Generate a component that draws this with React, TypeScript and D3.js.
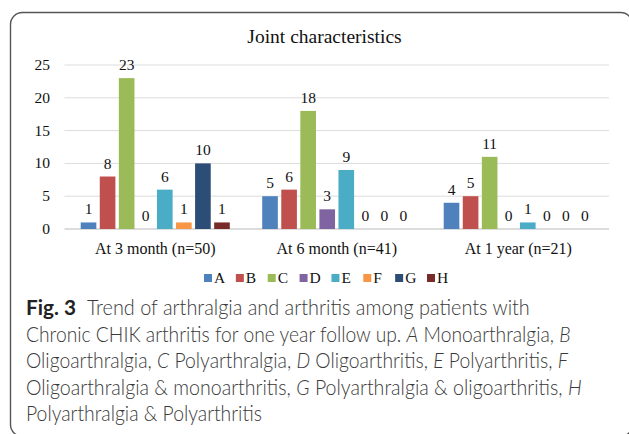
import React, { useLayoutEffect, useRef } from "react"
import * as d3 from "d3"

const categories = ["At 3 month (n=50)", "At 6 month (n=41)", "At 1 year (n=21)"]
const seriesKeys = ["A", "B", "C", "D", "E", "F", "G", "H"]
const seriesA = [1, 5, 4]
const seriesB = [8, 6, 5]
const seriesC = [23, 18, 11]
const seriesD = [0, 3, 0]
const seriesE = [6, 9, 1]
const seriesF = [1, 0, 0]
const seriesG = [10, 0, 0]
const seriesH = [1, 0, 0]
const yTicks = [0, 5, 10, 15, 20, 25]
const colors = ["#4F81BD", "#C0504D", "#9BBB59", "#8064A2", "#4BACC6", "#F79646", "#2C4D75", "#772C2A"]

const allSeries = [seriesA, seriesB, seriesC, seriesD, seriesE, seriesF, seriesG, seriesH]

// caption lines: [text, italic?] segments, start x, target width, baseline
const captionLines: { x: number; y: number; w: number; parts: [string, boolean][] }[] = [
	{ x: 87, y: 315, w: 443, parts: [["Trend of arthralgia and arthritis among patients with", false]] },
	{
		x: 26,
		y: 341.5,
		w: 545,
		parts: [
			["Chronic CHIK arthritis for one year follow up. ", false],
			["A", true],
			[" Monoarthralgia, ", false],
			["B", true],
		],
	},
	{
		x: 26,
		y: 368,
		w: 542,
		parts: [
			["Oligoarthralgia, ", false],
			["C", true],
			[" Polyarthralgia, ", false],
			["D", true],
			[" Oligoarthritis, ", false],
			["E", true],
			[" Polyarthritis, ", false],
			["F", true],
		],
	},
	{
		x: 26,
		y: 394.5,
		w: 556,
		parts: [
			["Oligoarthralgia & monoarthritis, ", false],
			["G", true],
			[" Polyarthralgia & oligoarthritis, ", false],
			["H", true],
		],
	},
	{ x: 26, y: 421, w: 236, parts: [["Polyarthralgia & Polyarthritis", false]] },
]

const serif = "'Liberation Serif', 'Times New Roman', serif"
const sans = "Lato, 'Open Sans', sans-serif"

const App: React.FC = () => {
	const width = 629
	const height = 434
	const plot = { left: 64.5, right: 609, top: 65, bottom: 229 }
	const captionRef = useRef<SVGGElement>(null)

	const x0 = d3.scaleBand().domain(categories).range([plot.left, plot.right])
	const x1 = d3
		.scaleBand()
		.domain(seriesKeys)
		.range([0, x0.bandwidth()])
		.paddingInner(0.18)
		.paddingOuter(0.85)
	const y = d3.scaleLinear().domain([0, 25]).range([plot.bottom, plot.top])

	const legendX = d3.scalePoint().domain(seriesKeys).range([204, 427])

	const bars = categories.flatMap((cat, ci) =>
		seriesKeys.map((key, si) => ({
			cat,
			key,
			value: allSeries[si][ci],
			color: colors[si],
		}))
	)

	// squeeze each caption line to the width it has in the figure
	useLayoutEffect(() => {
		if (!captionRef.current) return
		d3.select(captionRef.current)
			.selectAll<SVGTextElement, unknown>("text.cap")
			.each(function () {
				const el = this
				const tx = +(el.getAttribute("data-x") || 0)
				const ty = +(el.getAttribute("data-y") || 0)
				const tw = +(el.getAttribute("data-w") || 0)
				const w = el.getComputedTextLength()
				const sx = w > 0 ? tw / w : 1
				el.setAttribute("transform", `translate(${tx},${ty}) scale(${sx},1)`)
			})
	}, [])

	return (
		<svg
			width={width}
			height={height}
			style={{ position: "absolute", left: 0, top: 0, background: "#fff" }}>
			<rect
				x={10.5}
				y={12.5}
				width={622}
				height={424}
				rx={12}
				fill="none"
				stroke="#555"
				strokeWidth={1.4}
			/>
			<text
				x={324.5}
				y={43}
				textAnchor="middle"
				fontFamily={serif}
				fontSize={19.5}
				fill="#111">
				Joint characteristics
			</text>
			{/* gridlines + y labels */}
			{yTicks.map((t) => (
				<g key={t}>
					<line
						x1={plot.left}
						x2={plot.right}
						y1={y(t)}
						y2={y(t)}
						stroke={t === 0 ? "#d0d0d0" : "#dcdcdc"}
						strokeWidth={t === 0 ? 1.5 : 1}
					/>
					<text
						x={50}
						y={y(t) + 5}
						textAnchor="end"
						fontFamily={serif}
						fontSize={15.5}
						fill="#111">
						{t}
					</text>
				</g>
			))}
			{bars.map((b) => {
				const bx = (x0(b.cat) as number) + (x1(b.key) as number)
				const by = y(b.value)
				return (
					<g key={b.cat + b.key}>
						<rect
							x={bx}
							y={by}
							width={x1.bandwidth()}
							height={plot.bottom - by}
							fill={b.color}
						/>
						<text
							x={bx + x1.bandwidth() / 2}
							y={by - 8}
							textAnchor="middle"
							fontFamily={serif}
							fontSize={15.5}
							fill="#111">
							{b.value}
						</text>
					</g>
				)
			})}
			{categories.map((c) => (
				<text
					key={c}
					x={(x0(c) as number) + x0.bandwidth() / 2}
					y={253.5}
					textAnchor="middle"
					fontFamily={serif}
					fontSize={16}
					fill="#111">
					{c}
				</text>
			))}
			{/* legend */}
			{seriesKeys.map((k, i) => (
				<g key={k} transform={`translate(${legendX(k)},274)`}>
					<rect width={8} height={8} fill={colors[i]} />
					<text x={10} y={8.5} fontFamily={serif} fontSize={15.5} fill="#111">
						{k}
					</text>
				</g>
			))}
			{/* caption */}
			<g ref={captionRef} fontFamily={sans} fontSize={21} fill="#3a3a3a">
				<text
					className="cap"
					data-x={26}
					data-y={315}
					data-w={50}
					transform="translate(26,315)"
					fontWeight="bold"
					fill="#222">
					Fig. 3
				</text>
				{captionLines.map((line, li) => (
					<text
						key={li}
						className="cap"
						data-x={line.x}
						data-y={line.y}
						data-w={line.w}
						transform={`translate(${line.x},${line.y})`}
						fontWeight={300}>
						{line.parts.map(([s, it], pi) =>
							it ? (
								<tspan key={pi} fontStyle="italic">
									{s}
								</tspan>
							) : (
								<tspan key={pi}>{s}</tspan>
							)
						)}
					</text>
				))}
			</g>
		</svg>
	)
}

export default App
